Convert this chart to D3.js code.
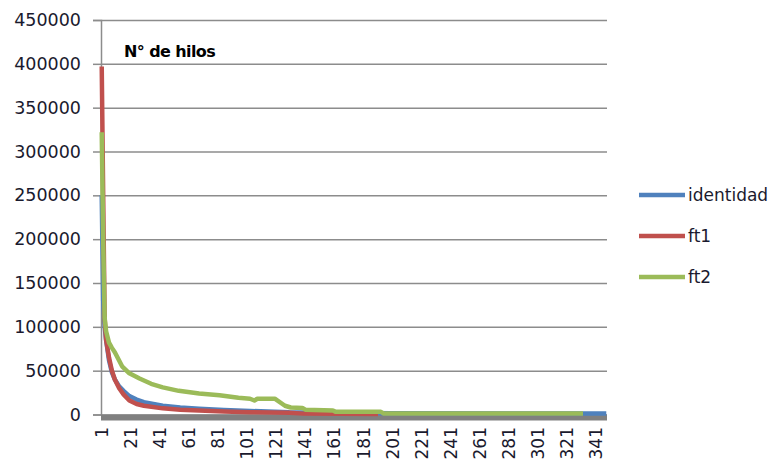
<!DOCTYPE html>
<html>
<head>
<meta charset="utf-8">
<script src="https://cdn.jsdelivr.net/npm/d3@7"></script>
<style>
  body { margin: 0; background: #fff; }
  text { font-family: "DejaVu Sans", sans-serif; }
</style>
</head>
<body>
<div id="chart"></div>
<script>
// categories run 1..348, labelled every 20
var nCats = 348
var tickLabels = [1, 21, 41, 61, 81, 101, 121, 141, 161, 181, 201, 221, 241, 261, 281, 301, 321, 341]
var yTicks = [0, 50000, 100000, 150000, 200000, 250000, 300000, 350000, 400000, 450000]

// [category, value]
var identidad = [[1, 250000], [2, 130000], [3, 100000], [4, 85000], [6, 62000], [8, 48000], [10, 40000],
  [13, 32000], [16, 27000], [20, 21000], [25, 17000], [30, 14000], [43, 10000], [55, 8000], [68, 6500],
  [85, 5000], [103, 4000], [115, 3500], [130, 2500], [160, 2000], [200, 1500], [348, 1000]]

var ft1 = [[1, 397000], [2, 250000], [3, 110000], [4, 85000], [6, 65000], [8, 50000], [10, 40000],
  [13, 30000], [16, 23000], [20, 16000], [25, 12000], [30, 10000], [43, 7000], [55, 5500], [68, 4500],
  [85, 3500], [103, 2500], [130, 2000], [140, 1000], [191, 500]]

var ft2 = [[1, 322000], [2, 200000], [3, 110000], [4, 95000], [6, 82000], [8, 76000], [10, 71000],
  [15, 55000], [20, 47000], [27, 41000], [35, 35000], [43, 31000], [54, 27000], [68, 24000], [82, 22000],
  [95, 19000], [103, 18000], [106, 16000], [108, 18000], [120, 18000], [127, 10000], [131, 8000],
  [139, 7500], [141, 5500], [160, 4500], [162, 3000], [193, 3000], [195, 1000], [332, 1000]]

var series = [
  {name: 'identidad', color: '#4f81bd', values: identidad},
  {name: 'ft1', color: '#c0504d', values: ft1},
  {name: 'ft2', color: '#9bbb59', values: ft2}
]

var svg = d3.select('#chart').append('svg').attr('width', 774).attr('height', 463)

var plotL = 101, plotR = 607, plotT = 20, plotB = 414.5

var x = d3.scaleLinear().domain([0.5, nCats + 0.5]).range([plotL, plotR])
var y = d3.scaleLinear().domain([0, 450000]).range([plotB, plotT])

// gridlines
svg.append('g')
  .attr('transform', 'translate(' + plotL + ',0)')
  .call(d3.axisLeft(y).tickValues(yTicks).tickSize(-(plotR - plotL)).tickFormat(''))
  .call(g => g.select('.domain').remove())
  .call(g => g.selectAll('line').attr('stroke', '#8c8c8c').attr('stroke-width', 1.5))

// y axis
svg.append('g')
  .attr('transform', 'translate(' + plotL + ',0)')
  .call(d3.axisLeft(y).tickValues(yTicks).tickSize(8).tickPadding(12).tickFormat(d3.format('d')))
  .call(g => g.select('.domain').attr('stroke', '#8c8c8c').attr('stroke-width', 1.5))
  .call(g => g.selectAll('line').attr('stroke', '#8c8c8c').attr('stroke-width', 1.5))
  .call(g => g.selectAll('text').attr('font-size', 17.5).attr('fill', '#1a1a2e')
    .attr('font-family', '"DejaVu Sans", sans-serif'))

// thick grey band along the bottom
svg.append('line')
  .attr('x1', x(0.5)).attr('x2', x(nCats + 0.5))
  .attr('y1', plotB + 3).attr('y2', plotB + 3)
  .attr('stroke', '#808080').attr('stroke-width', 6)

// x labels, rotated
svg.append('g').selectAll('text')
  .data(tickLabels)
  .join('text')
  .attr('transform', d => 'translate(' + x(d) + ',427) rotate(-90)')
  .attr('text-anchor', 'end')
  .attr('dy', '0.36em')
  .attr('font-size', 17)
  .attr('fill', '#1a1a2e')
  .text(d => d)

var line = d3.line().x(d => x(d[0])).y(d => y(d[1]))

svg.append('g').selectAll('path')
  .data(series)
  .join('path')
  .attr('d', d => line(d.values))
  .attr('fill', 'none')
  .attr('stroke', d => d.color)
  .attr('stroke-width', 4.5)
  .attr('stroke-linejoin', 'round')

// title
svg.append('text')
  .attr('x', 124).attr('y', 57)
  .attr('font-family', '"Open Sans", sans-serif')
  .attr('font-weight', 600)
  .attr('font-size', 16)
  .attr('letter-spacing', -0.6)
  .text('N° de hilos')

// legend
var legend = svg.append('g').selectAll('g')
  .data(series)
  .join('g')
  .attr('transform', (d, i) => 'translate(639,' + [195, 236, 277][i] + ')')

legend.append('line')
  .attr('x2', 46)
  .attr('stroke', d => d.color)
  .attr('stroke-width', 4.5)

legend.append('text')
  .attr('x', 49)
  .attr('dy', '0.35em')
  .attr('font-size', 17)
  .attr('fill', '#1a1a2e')
  .text(d => d.name)
</script>
</body>
</html>
